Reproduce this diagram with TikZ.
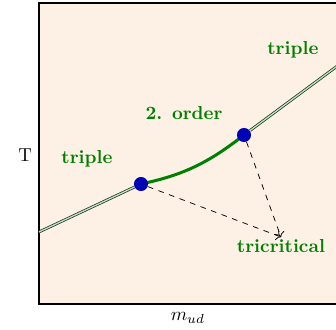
\documentclass[tikz,border=0pt]{standalone}
\usetikzlibrary{arrows.meta,positioning,calc}
\definecolor{PhaseBg}{HTML}{FDF0E4}
\definecolor{PhaseGreen}{HTML}{008000}
\definecolor{PhaseBlue}{HTML}{0000B4}
\definecolor{PhaseLine}{HTML}{1F3A1F}
\tikzset{
  phaselabel/.style={font=\bfseries, text=PhaseGreen},
  axislabel/.style={font=\normalsize, text=black},
  firstorder/.style={draw=PhaseLine, double=PhaseGreen!25, double distance=0.7pt, line width=0.4pt},
  secondorder/.style={draw=PhaseGreen, line width=1.6pt},
  critdot/.style={circle, fill=PhaseBlue, inner sep=0pt, minimum size=7.5pt},
  guide/.style={->, dashed, line width=0.4pt}
}
\begin{document}
\begin{tikzpicture}
\useasboundingbox (-0.731,-0.4875) rectangle (5.569,5.70);
\fill[PhaseBg] (0,0) rectangle (5.7,5.644);
\draw[line width=1pt] (5.7,0) -- (0,0) -- (0,5.644) -- (5.7,5.644);
% phase boundaries
\coordinate (lowend) at (0,1.35);
\coordinate (highend) at ($(3.844,3.169)!2!(5.569,4.444)$);
\coordinate (tcp) at (4.5375,1.256);
\draw[secondorder] (1.9125,2.25) to[out=12, in=218] (3.844,3.169);
\node[critdot] (lowcrit) at (1.9125,2.25) {};
\node[critdot] (highcrit) at (3.844,3.169) {};
\draw[firstorder] (lowend) -- (lowcrit);
\draw[firstorder] (highcrit) -- (highend);
\draw[guide] (lowcrit) -- (tcp);
\draw[guide] (highcrit) -- (tcp);
% labels
\node[phaselabel] (tlabel) at (4.5375,1.0875) {tricritical};
\node[phaselabel] (leftlabel) at (0.9,2.72) {triple};
\node[phaselabel] (midlabel) at (2.72,3.58) {2. order};
\node[phaselabel] (rightlabel) at (4.76,4.76) {triple};
\node[axislabel] (ylabel) at (-0.26,2.79) {T};
\node[axislabel] (xlabel) at (2.79,-0.26) {$m_{ud}$};
\end{tikzpicture}
\end{document}
